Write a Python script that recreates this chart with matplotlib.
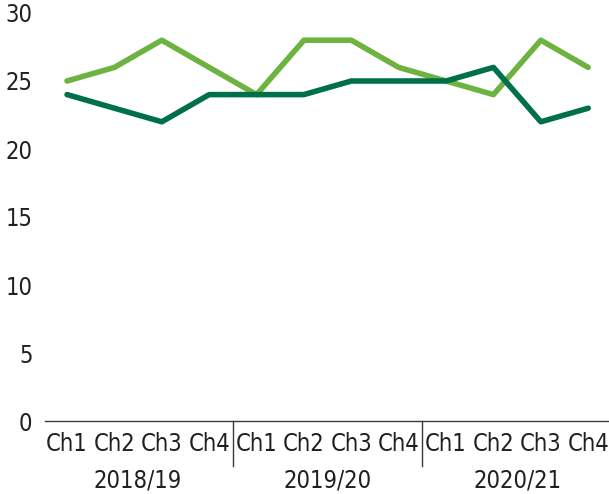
import matplotlib.pyplot as plt
import matplotlib.transforms as mtransforms

plt.rcParams['font.family'] = ['DejaVu Sans']
plt.rcParams['font.stretch'] = 'condensed'

quarters = ['Ch1', 'Ch2', 'Ch3', 'Ch4'] * 3
years = ['2018/19', '2019/20', '2020/21']
light_series = [25, 26, 28, 26, 24, 28, 28, 26, 25, 24, 28, 26]
dark_series = [24, 23, 22, 24, 24, 24, 25, 25, 25, 26, 22, 23]

light_green = '#6db33f'
dark_green = '#00704a'
text_color = '#231f20'

fig = plt.figure(figsize=(6.09, 4.94), dpi=100)
ax = fig.add_axes([45 / 609, 73 / 494, 565 / 609, 408 / 494])

x = list(range(len(quarters)))
ax.plot(x, light_series, color=light_green, lw=4, solid_capstyle='round', zorder=3)
ax.plot(x, dark_series, color=dark_green, lw=4, solid_capstyle='round', zorder=3)

ax.set_xlim(-0.465, 11.46)
ax.set_ylim(0, 30)
ax.set_yticks(range(0, 31, 5))
ax.set_xticks(x)
ax.set_xticklabels(quarters)
ax.tick_params(axis='both', length=0, labelsize=17, colors=text_color)
ax.tick_params(axis='y', pad=9)
ax.tick_params(axis='x', pad=8)

for side in ['top', 'right', 'left']:
    ax.spines[side].set_visible(False)
ax.spines['bottom'].set_color('#3a3a3a')
ax.spines['bottom'].set_linewidth(1.0)

# group separators and year labels below the axis
trans = mtransforms.blended_transform_factory(ax.transData, ax.transAxes)
for sep in [3.5, 7.5]:
    ax.plot([sep, sep], [0, -0.11], color='#3a3a3a', lw=1.0,
            transform=trans, clip_on=False)
for i, yr in enumerate(years):
    ax.text(i * 4 + 1.5, -0.145, yr, transform=trans, ha='center', va='center',
            fontsize=17, color=text_color)

fig.savefig('out.png', dpi=100)
